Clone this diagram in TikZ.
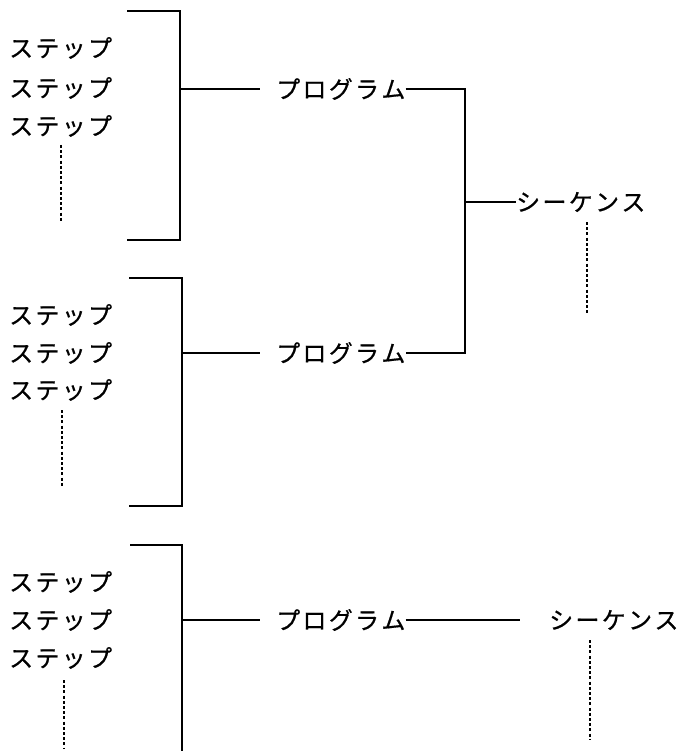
\documentclass[tikz,border=0pt]{standalone}
\usepackage{fontspec}
\newfontfamily\jp[FakeBold=0.6]{Noto Sans CJK JP}
\newcommand\sk{\kern2.3pt}
\newcommand\stp{ス\sk テ\sk ッ\sk プ}
\newcommand\prog{プ\sk ロ\sk グ\sk ラ\sk ム}
\newcommand\seqt{シ\sk ー\sk ケ\sk ン\sk ス}
\tikzset{
  lbl/.style={inner sep=0pt, anchor=west, font=\jp\fontsize{24}{24}\selectfont},
  ln/.style={line width=1.1pt},
  dots/.style={line width=1.1pt, dash pattern=on 3pt off 2.2pt}
}
\begin{document}
\begin{tikzpicture}[x=1pt,y=-1pt]
\useasboundingbox (0,0) rectangle (681,751);
% group 1
\node[lbl] (s11) at (9,48) {\stp};
\node[lbl] (s12) at (9,88) {\stp};
\node[lbl] (s13) at (9,126) {\stp};
\coordinate (d1a) at (61,145); \coordinate (d1b) at (61,222);
\draw[dots] (d1a) -- (d1b);
\draw[ln] (127,11) -- (180,11) -- (180,240) -- (127,240);
\node[lbl] (p1) at (276,89) {\prog};
\draw[ln] (180,89) -- (260,89);
% group 2
\node[lbl] (s21) at (9,315) {\stp};
\node[lbl] (s22) at (9,353) {\stp};
\node[lbl] (s23) at (9,390) {\stp};
\coordinate (d2a) at (62,410); \coordinate (d2b) at (62,487);
\draw[dots] (d2a) -- (d2b);
\draw[ln] (129,278) -- (182,278) -- (182,506) -- (129,506);
\node[lbl] (p2) at (276,353) {\prog};
\draw[ln] (182,353) -- (260,353);
% join
\coordinate (j) at (465,202);
\draw[ln] (p1.east) -- (465,89) -- (465,353) -- (p2.east);
\node[lbl] (q1) at (516,202) {\seqt};
\draw[ln] (j) -- (q1.west);
\coordinate (d4a) at (587,222); \coordinate (d4b) at (587,315);
\draw[dots] (d4a) -- (d4b);
% group 3
\node[lbl] (s31) at (9,582) {\stp};
\node[lbl] (s32) at (9,620) {\stp};
\node[lbl] (s33) at (9,658) {\stp};
\coordinate (d3a) at (64,680); \coordinate (d3b) at (64,748);
\draw[dots] (d3a) -- (d3b);
\draw[ln] (130,545) -- (182,545) -- (182,751);
\node[lbl] (p3) at (276,620) {\prog};
\draw[ln] (182,620) -- (260,620);
\node[lbl] (q2) at (549,620) {\seqt};
\draw[ln] (p3.east) -- (520,620);
\coordinate (d5a) at (590,640); \coordinate (d5b) at (590,740);
\draw[dots] (d5a) -- (d5b);
\end{tikzpicture}
\end{document}
